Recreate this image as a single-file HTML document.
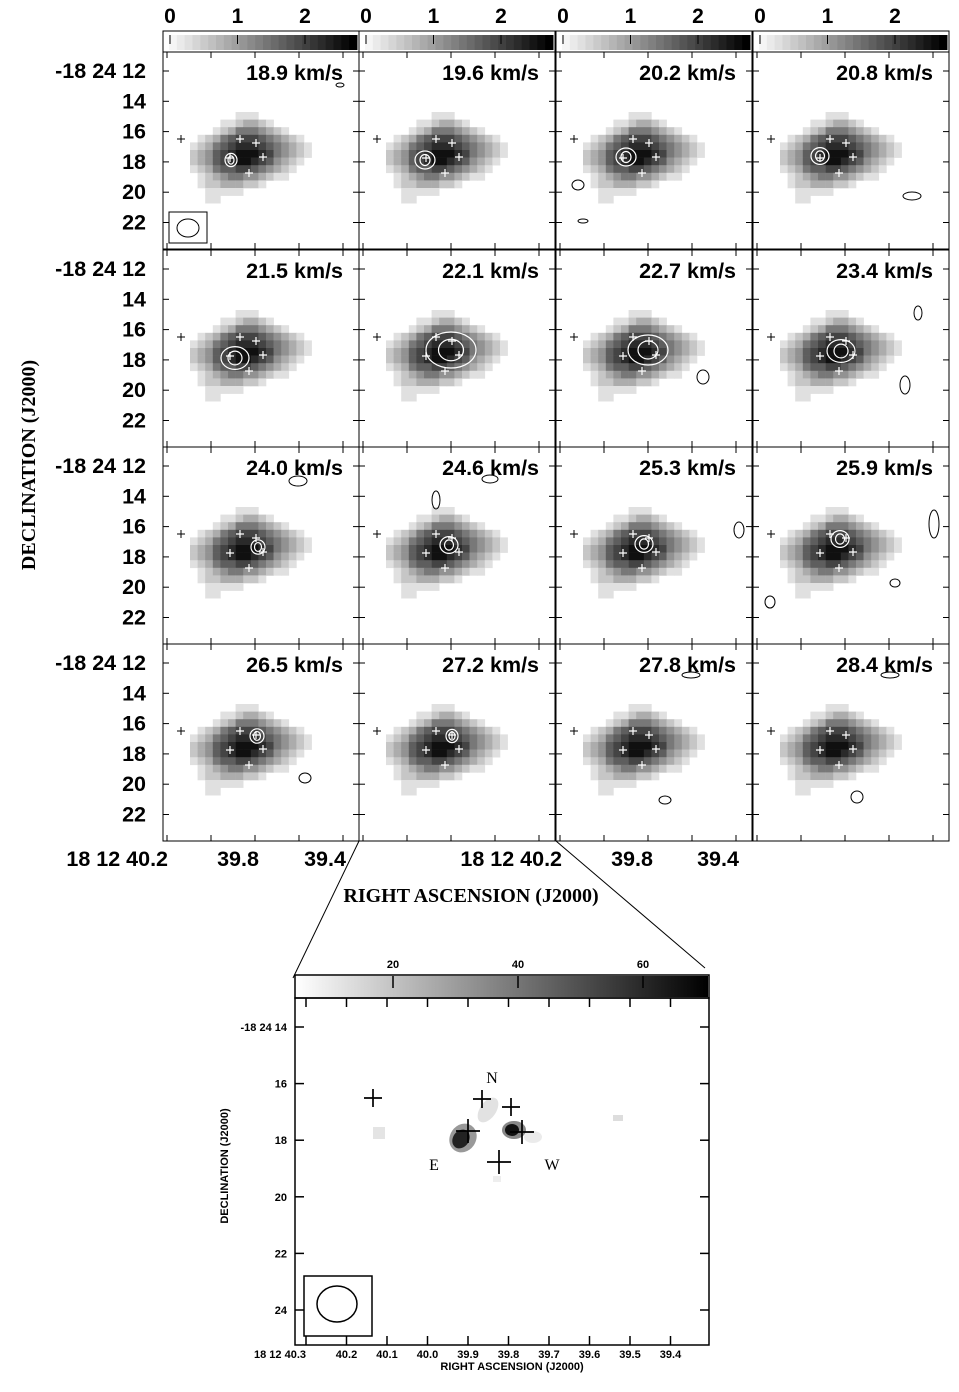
<!DOCTYPE html>
<html><head><meta charset="utf-8">
<style>
html,body{margin:0;padding:0;background:#fff;}
svg{display:block;font-family:"Liberation Sans",Arial,sans-serif;}
</style></head>
<body>
<svg id="fig" width="959" height="1392" viewBox="0 0 959 1392" xmlns="http://www.w3.org/2000/svg">
<g id="grid"></g>
<g id="zoomPanel"></g>
</svg>
<script>
const velocities = ["18.9","19.6","20.2","20.8","21.5","22.1","22.7","23.4","24.0","24.6","25.3","25.9","26.5","27.2","27.8","28.4"];
const cbTicks = [0,1,2];
const decTicks = ["-18 24 12","14","16","18","20","22"];
const raTickLabels = ["18 12 40.2","39.8","39.4"];
const zoomCbTicks = [20,40,60];
const zoomDecTicks = ["-18 24 14","16","18","20","22","24"];
const zoomDecValues = [14,16,18,20,22,24];
const zoomRaLabels = ["18 12 40.3","40.2","40.1","40.0","39.9","39.8","39.7","39.6","39.5","39.4"];
const zoomRaValues = [40.3,40.2,40.1,40.0,39.9,39.8,39.7,39.6,39.5,39.4];
// blob intensity image (0..9)
const blobRows = [
"0000001110000000",
"0000112332100000",
"0001235554321000",
"0123567776543210",
"1235678887654321",
"2346789998754321",
"2346789987643210",
"1235667765432100",
"0123455443211000",
"0122333221000000",
"0011111000000000",
"0011000000000000"];
const whiteContourX = [68,66,70,67,72,92,92,88,95,90,88,87,94,93,0,0];
const whiteContourY = [108,108,105,104,108,100,100,101,100,98,97,92,92,92,0,0];
const whiteContourR = [6,10,10,9,14,25,20,14,7,9,9,9,7,6,0,0];

const NS="http://www.w3.org/2000/svg";
function el(tag, attrs, parent){const e=document.createElementNS(NS,tag);for(const k in attrs)e.setAttribute(k,attrs[k]);if(parent)parent.appendChild(e);return e;}

const grid=document.getElementById('grid');
const colX=[163,359,556,753], rowY=[52,250,447,644], PW=196, PH=197;
const cbX=v=>7+67.5*v;
const decY=i=>19+30.3*i;

for(let c=0;c<4;c++){
  const g=el('g',{},grid);
  
  
  const x0=colX[c];
  el('rect',{x:x0,y:31,width:PW,height:21,fill:'#fff',stroke:'#000','stroke-width':1},g);
  const n=24;
  for(let i=0;i<n;i++){
    const gv=Math.round(245-i*(245/(n-1)));
    el('rect',{x:x0+6+i*(188/n),y:35,width:188/n+0.5,height:15,fill:`rgb(${gv},${gv},${gv})`},g);
  }
  cbTicks.forEach(v=>{
    el('line',{x1:x0+cbX(v),x2:x0+cbX(v),y1:35,y2:44,stroke:'#000','stroke-width':1},g);
    const t=el('text',{x:x0+cbX(v),y:23,'font-size':21,'font-weight':'bold','text-anchor':'middle'},g);
    t.textContent=v;
    
    
  });
}

velocities.forEach((vel,i)=>{
  const c=i%4,r=Math.floor(i/4),x0=colX[c],y0=rowY[r];
  const g=el('g',{transform:`translate(${x0},${y0})`},grid);
  
  
  blobRows.forEach((row,ry)=>{
    for(let cx=0;cx<row.length;cx++){
      const lv=+row[cx]; if(!lv)continue;
      const gv=Math.max(0,Math.round(250-lv*26));
      el('rect',{x:27+cx*7.6,y:60+ry*7.6,width:7.9,height:7.9,fill:`rgb(${gv},${gv},${gv})`},g);
    }
  });
  el('rect',{x:0,y:0,width:PW,height:PH,fill:'none',stroke:'#000','stroke-width':1},g);
  for(let k=0;k<5;k++){const tx=4+44*k;
    el('line',{x1:tx,x2:tx,y1:0,y2:6,stroke:'#000'},g);
    el('line',{x1:tx,x2:tx,y1:PH,y2:PH-6,stroke:'#000'},g);}
  for(let k=0;k<6;k++){const ty=decY(k);
    el('line',{x1:0,x2:6,y1:ty,y2:ty,stroke:'#000'},g);
    el('line',{x1:PW,x2:PW-6,y1:ty,y2:ty,stroke:'#000'},g);}
  const t=el('text',{x:PW-16,y:28,'font-size':21.5,'font-weight':'bold','text-anchor':'end'},g);
  t.textContent=vel+' km/s';
  
  
  const wc=[[77,87],[93,91],[100,105],[67,106],[86,121]];
  el('path',{d:'M14,87h8M18,83v8',stroke:'#000','stroke-width':1},g);
  wc.forEach(p=>el('path',{d:`M${p[0]-4},${p[1]}h8M${p[0]},${p[1]-4}v8`,stroke:'#fff','stroke-width':1.2},g));
  if(whiteContourR[i]){
    el('ellipse',{cx:whiteContourX[i],cy:whiteContourY[i],rx:whiteContourR[i],ry:whiteContourR[i]*0.6+3,fill:'none',stroke:'#fff','stroke-width':1.2},g);
    el('ellipse',{cx:whiteContourX[i],cy:whiteContourY[i],rx:whiteContourR[i]*0.5,ry:whiteContourR[i]*0.35+2,fill:'none',stroke:'#fff','stroke-width':1.2},g);
  }
  if(i===0){
    el('rect',{x:6,y:160,width:38,height:31,fill:'none',stroke:'#000'},g);
    el('ellipse',{cx:25,cy:176,rx:11,ry:9,fill:'none',stroke:'#000'},g);
  }
  if(c===0){
    decTicks.forEach((lab,k)=>{
      const tt=el('text',{x:-17,y:decY(k)+7,'font-size':21.5,'font-weight':'bold','text-anchor':'end'},g);
      tt.textContent=lab;
      
      
    });
  }
});

const noise=[[340,85,4,2],[578,185,6,5],[583,221,5,2],[912,196,9,4],[703,377,6,7],[905,385,5,9],[918,313,4,7],[436,500,4,9],[739,530,5,8],[934,524,5,14],[770,602,5,6],[895,583,5,4],[305,778,6,5],[665,800,6,4],[857,797,6,6],[691,675,9,3],[890,675,9,3],[298,481,9,5],[490,479,8,4]];
noise.forEach(n=>{
  const e=el('ellipse',{cx:n[0],cy:n[1],rx:n[2],ry:n[3],fill:'none',stroke:'#000','stroke-width':1},grid);
  
  
});

[[163,168,238,325],[556,562,632,718]].forEach(a=>{
  [a[1],a[2],a[3]].forEach((x,k)=>{
    const t=el('text',{x:x,y:866,'font-size':21.5,'font-weight':'bold','text-anchor':k===0?'end':'middle'},grid);
    t.textContent=raTickLabels[k];
    
    
  });
});
let t=el('text',{x:471,y:902,'font-size':20,'font-weight':'bold','text-anchor':'middle','font-family':'Liberation Serif, serif'},grid);
t.textContent='RIGHT ASCENSION (J2000)';


t=el('text',{x:0,y:0,'font-size':20,'font-weight':'bold','text-anchor':'middle','font-family':'Liberation Serif, serif',transform:'translate(35,465) rotate(-90)'},grid);
t.textContent='DECLINATION (J2000)';



el('line',{x1:359,y1:841,x2:293,y2:978,stroke:'#000'},grid);
el('line',{x1:556,y1:841,x2:705,y2:968,stroke:'#000'},grid);

const zp=document.getElementById('zoomPanel');
const zX0=295,zX1=709,zTop=998,zBot=1345;
const zcbX=v=>393+(v-20)*6.25;
const zDec=v=>1027+(v-14)*28.3;
const zRa=v=>306+(40.3-v)*405;
el('rect',{x:zX0,y:975,width:zX1-zX0,height:23,fill:'#fff',stroke:'#000','stroke-width':1.5},zp);
const defs=el('defs',{},zp);
const lg=el('linearGradient',{id:'zg',x1:0,x2:1,y1:0,y2:0},defs);
el('stop',{offset:0,'stop-color':'#fff'},lg);
el('stop',{offset:1,'stop-color':'#000'},lg);
el('rect',{x:zX0+1,y:976,width:zX1-zX0-2,height:21,fill:'url(#zg)'},zp);
zoomCbTicks.forEach(v=>{
  el('line',{x1:zcbX(v),x2:zcbX(v),y1:976,y2:988,stroke:'#000','stroke-width':1.5},zp);
  const tt=el('text',{x:zcbX(v),y:968,'font-size':11,'font-weight':'bold','text-anchor':'middle'},zp);
  tt.textContent=v;
  
  
});
el('ellipse',{cx:463,cy:1138,rx:13,ry:15,fill:'#999',transform:'rotate(35 463 1138)'},zp);
el('ellipse',{cx:461,cy:1139,rx:8,ry:10,fill:'#222',transform:'rotate(35 461 1139)'},zp);
el('ellipse',{cx:514,cy:1130,rx:12,ry:9,fill:'#888'},zp);
el('ellipse',{cx:512,cy:1130,rx:7,ry:6,fill:'#111'},zp);
el('ellipse',{cx:488,cy:1110,rx:8,ry:14,fill:'#e2e2e2',transform:'rotate(35 488 1110)'},zp);
el('ellipse',{cx:533,cy:1137,rx:9,ry:6,fill:'#ebebeb'},zp);
el('rect',{x:373,y:1127,width:12,height:12,fill:'#e4e4e4'},zp);
el('rect',{x:613,y:1115,width:10,height:6,fill:'#ddd'},zp);
el('rect',{x:493,y:1176,width:8,height:6,fill:'#eee'},zp);
el('rect',{x:zX0,y:zTop,width:zX1-zX0,height:zBot-zTop,fill:'none',stroke:'#000','stroke-width':1.5},zp);
zoomRaValues.forEach((v,k)=>{
  const x=zRa(v);
  el('line',{x1:x,x2:x,y1:zTop,y2:zTop+9,stroke:'#000','stroke-width':1.5},zp);
  el('line',{x1:x,x2:x,y1:zBot,y2:zBot-9,stroke:'#000','stroke-width':1.5},zp);
  const tt=el('text',{x:x,y:1358,'font-size':11,'font-weight':'bold','text-anchor':k===0?'end':'middle'},zp);
  tt.textContent=zoomRaLabels[k];
  
  
});
zoomDecValues.forEach((v,k)=>{
  const y=zDec(v);
  el('line',{x1:zX0,x2:zX0+9,y1:y,y2:y,stroke:'#000','stroke-width':1.5},zp);
  el('line',{x1:zX1,x2:zX1-9,y1:y,y2:y,stroke:'#000','stroke-width':1.5},zp);
  const tt=el('text',{x:287,y:y+4,'font-size':11,'font-weight':'bold','text-anchor':'end'},zp);
  tt.textContent=zoomDecTicks[k];
  
  
});
[[373,1098],[482,1099],[511,1107],[468,1131],[522,1132],[499,1162]].forEach((p,k)=>{
  const s=k>=3?12:9;
  const cr=el('path',{d:`M${p[0]-s},${p[1]}h${2*s}M${p[0]},${p[1]-s}v${2*s}`,stroke:'#000','stroke-width':1.7},zp);
  
  
});
[['N',492,1083],['E',434,1170],['W',552,1170]].forEach(a=>{
  const tt=el('text',{x:a[1],y:a[2],'font-size':16,'text-anchor':'middle','font-family':'Liberation Serif, serif'},zp);
  tt.textContent=a[0];
  
  
});
el('rect',{x:304,y:1276,width:68,height:60,fill:'none',stroke:'#000','stroke-width':1.5},zp);
el('ellipse',{cx:337,cy:1304,rx:20,ry:18,fill:'none',stroke:'#000','stroke-width':1.5},zp);
t=el('text',{x:512,y:1370,'font-size':11,'font-weight':'bold','text-anchor':'middle'},zp);
t.textContent='RIGHT ASCENSION (J2000)';


t=el('text',{x:0,y:0,'font-size':11,'font-weight':'bold','text-anchor':'middle',transform:'translate(228,1166) rotate(-90)'},zp);
t.textContent='DECLINATION (J2000)';


</script>
</body></html>
